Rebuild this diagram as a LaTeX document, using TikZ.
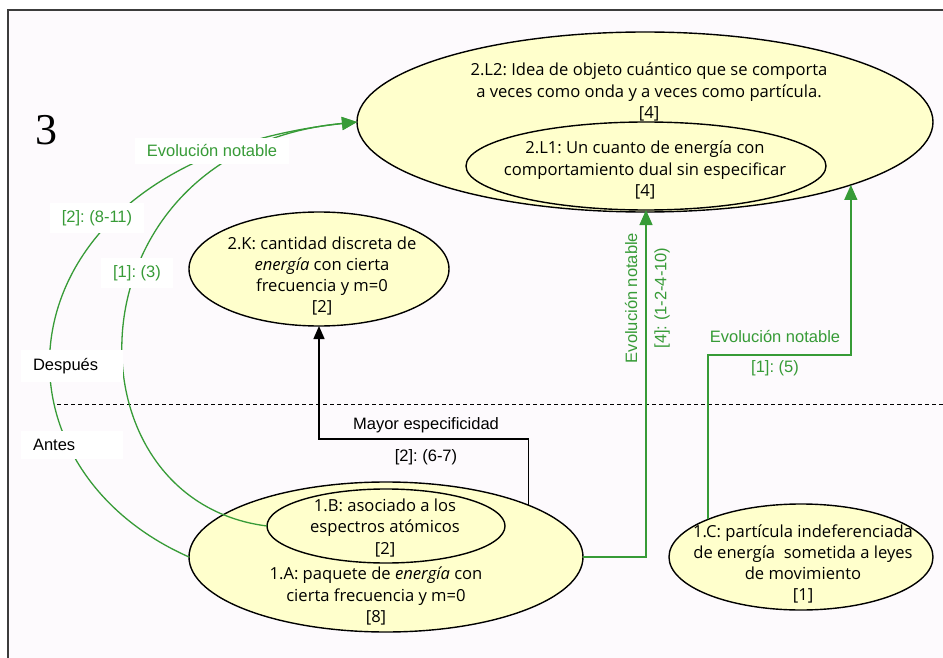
\documentclass[tikz,border=0pt]{standalone}
\usepackage{fontspec}
\setmainfont{Open Sans}
\newfontfamily\labfont{Liberation Sans}
\newfontfamily\numfont{Liberation Serif}
\usetikzlibrary{arrows.meta,shapes.geometric}
\definecolor{bgc}{RGB}{253,250,253}
\definecolor{ellc}{RGB}{255,255,204}
\definecolor{grn}{RGB}{55,155,55}
\definecolor{frm}{RGB}{60,60,60}
\frenchspacing
\begin{document}
\begin{tikzpicture}[x=1pt,y=-1pt,
  bubble/.style={ellipse, draw=black, line width=1.4pt, fill=ellc, inner sep=0pt, outer sep=0pt},
  btext/.style={align=center, font=\fontsize{16.6}{21.3}\selectfont, inner sep=0pt},
  lab/.style={font=\labfont\fontsize{16.5}{19}\selectfont, text=grn, fill=white, inner xsep=12pt, inner ysep=7pt},
  side/.style={font=\labfont\fontsize{16.5}{19}\selectfont, text=black, fill=white, text width=78pt, align=left, inner xsep=12pt, inner ysep=8pt},
  thinlab/.style={font=\labfont\fontsize{16.5}{19}\selectfont, text=grn, inner sep=1pt},
  glink/.style={draw=grn, line width=1.3pt},
  blink/.style={draw=black, line width=1.4pt},
  gtip/.style={-{Triangle[length=15pt,width=13pt]}},
  btip/.style={-{Triangle[length=13pt,width=11pt]}}]
\useasboundingbox (0,0) rectangle (943,658);
\fill[white] (0,0) rectangle (943,658);
\fill[bgc] (8,10) rectangle (943,658);
\draw[frm, line width=2pt] (8,658) -- (8,10) -- (943,10);

% dashed separator
\coordinate (dl) at (57,404);
\coordinate (dr) at (943,404);
\draw[black, line width=0.8pt, dash pattern=on 4pt off 3pt] (dl) -- (dr);

% ellipses
\node[bubble, minimum width=576pt, minimum height=180pt] (L2) at (645,122) {};
\node[bubble, minimum width=360pt, minimum height=88pt] (L1) at (646,166) {};
\node[bubble, minimum width=260pt, minimum height=114pt] (K) at (319,269) {};
\node[bubble, minimum width=394pt, minimum height=150pt] (A) at (386,557) {};
\node[bubble, minimum width=238pt, minimum height=74pt] (B) at (386,526) {};
\node[bubble, minimum width=264pt, minimum height=106pt] (C) at (801,557) {};

% connectors
\coordinate (bturn) at (0,439);
\coordinate (gturn) at (0,355);
\draw[blink, btip] (A.20.7) -- (A.20.7 |- bturn) -| (K.south);
\draw[glink, gtip] (A.east) -| (L1.south);
\draw[glink, gtip] (C.158) -- (C.158 |- gturn) -| (L2.-17.5);
\draw[glink, gtip] (A.west) .. controls (-30,460) and (0,160) .. (L2.west);
\draw[glink, gtip] (B.west) .. controls (60,500) and (65,150) .. (L2.west);

% node texts
\node[btext] (tL2) at (649,92) {2.L2: Idea de objeto cuántico que se comporta\\a veces como onda y a veces como partícula.\\{[4]}};
\node[btext] (tL1) at (645,170) {2.L1: Un cuanto de energía con\\comportamiento dual sin especificar\\{[4]}};
\node[btext] (tK) at (322,276) {2.K: cantidad discreta de\\\textit{energía} con cierta\\frecuencia y m=0\\{[2]}};
\node[btext] (tB) at (385,528) {1.B: asociado a los\\espectros atómicos\\{[2]}};
\node[btext] (tA) at (376,596) {1.A: paquete de \textit{energía} con\\cierta frecuencia y m=0\\{[8]}};
\node[btext] (tC) at (803,564) {1.C: partícula indeferenciada\\de energía\ \ sometida a leyes\\de movimiento\\{[1]}};

% labels
\node[font=\numfont\fontsize{44}{44}\selectfont, inner sep=0pt] (num) at (46,130) {3};
\node[lab] (evo1) at (212,151) {Evolución notable};
\node[lab] (l811) at (97,218) {[2]: (8-11)};
\node[lab] (l3) at (137,273) {[1]: (3)};
\node[side] (desp) at (72,366) {Después};
\node[side] (ant) at (72,445) {Antes};
\node[thinlab, text=black] (may) at (426,425) {Mayor especificidad};
\node[thinlab, text=black] (l67) at (426,457) {[2]: (6-7)};
\node[thinlab, rotate=90] (evo2) at (631,298) {Evolución notable};
\node[thinlab, rotate=90] (l4) at (662,298) {[4]: (1-2-4-10)};
\node[thinlab] (evo3) at (775,337) {Evolución notable};
\node[thinlab] (l5) at (775,368) {[1]: (5)};
\end{tikzpicture}
\end{document}
